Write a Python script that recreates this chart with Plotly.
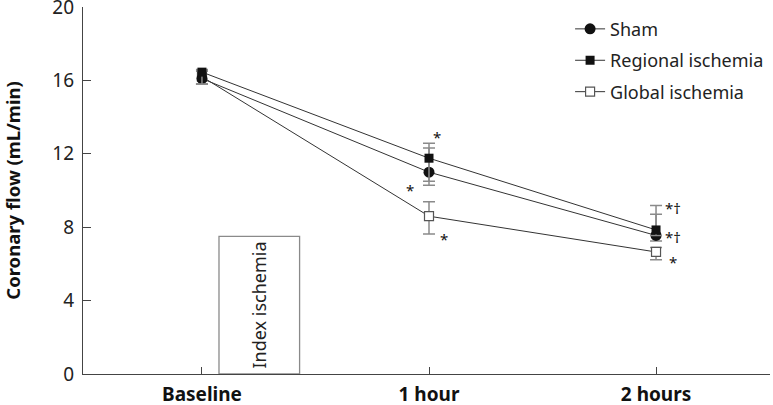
import plotly.graph_objects as go

# ---- data ----
timepoints = ["Baseline", "1 hour", "2 hours"]
sham = [16.1, 11.0, 7.55]
sham_err_plus = [0.45, 1.32, 1.16]
sham_err_minus = [0.3, 0.71, 0.3]
regional = [16.45, 11.76, 7.85]
regional_err_plus = [0.15, 0.81, 1.33]
regional_err_minus = [0.65, 1.26, 0.3]
global_isch = [16.2, 8.6, 6.65]
global_err_plus = [0.3, 0.79, 0.24]
global_err_minus = [0.4, 0.97, 0.42]
y_ticks = [0, 4, 8, 12, 16, 20]

# significance marks: (series label, timepoint index, text)
sig_marks = [
    ("regional", 1, "*"),
    ("sham", 1, "*"),
    ("global", 1, "*"),
    ("regional", 2, "*†"),
    ("sham", 2, "*†"),
    ("global", 2, "*"),
]
ischemia_label = "Index ischemia"
ischemia_box_top = 7.5

x = list(range(len(timepoints)))
FONT = "Noto Sans"
LINE = "#333333"
ERR = "#8a8a8a"

fig = go.Figure()

def add_series(name, y, ep, em, symbol, mcolor, lcolor, size, lwidth, rank):
    fig.add_trace(go.Scatter(
        x=x, y=y, name=name, mode="lines+markers",
        line=dict(color=LINE, width=1),
        marker=dict(symbol=symbol, size=size, color=mcolor,
                    line=dict(color=lcolor, width=lwidth)),
        error_y=dict(type="data", symmetric=False, array=ep, arrayminus=em,
                     color=ERR, thickness=1.5, width=6),
        legendgroup=name, legendrank=rank,
    ))

add_series("Global ischemia", global_isch, global_err_plus, global_err_minus,
           "square", "white", "#555555", 9, 1.2, 3)
add_series("Sham", sham, sham_err_plus, sham_err_minus,
           "circle", "#111111", "#111111", 11, 0, 1)
add_series("Regional ischemia", regional, regional_err_plus, regional_err_minus,
           "square", "#111111", "#111111", 9, 0, 2)

# Index ischemia box
fig.add_shape(type="rect", xref="x", yref="y", x0=0.075, x1=0.43, y0=0,
              y1=ischemia_box_top, line=dict(color="#8a8a8a", width=1.3),
              fillcolor="rgba(0,0,0,0)", layer="below")
fig.add_annotation(x=0.2525, y=3.75, xref="x", yref="y", text=ischemia_label,
                   textangle=-90, showarrow=False,
                   font=dict(family=FONT, size=18, color="#222"))

# significance annotations
series_vals = {"sham": sham, "regional": regional, "global": global_isch}
offsets = {
    (1, "regional"): (0.034, 1.35), (1, "sham"): (-0.084, -0.75),
    (1, "global"): (0.066, -1.03),
    (2, "regional"): (0.075, 1.41), (2, "sham"): (0.075, 0.13),
    (2, "global"): (0.074, -0.31),
}
for s, i, t in sig_marks:
    dx, dy = offsets[(i, s)]
    fig.add_annotation(x=x[i] + dx, y=series_vals[s][i] + dy, xref="x", yref="y",
                       text=t, showarrow=False, yshift=-4,
                       font=dict(family=FONT, size=15, color="#111"))

fig.update_layout(
    width=773, height=405,
    margin=dict(l=83, r=3, t=7, b=31, autoexpand=False),
    plot_bgcolor="white", paper_bgcolor="white",
    font=dict(family=FONT, color="#222"),
    showlegend=True,
    legend=dict(x=0.709, y=0.99, xanchor="left", yanchor="top",
                font=dict(family=FONT, size=18, color="#222"),
                traceorder="grouped", tracegroupgap=5,
                bgcolor="rgba(0,0,0,0)"),
    xaxis=dict(range=[-0.524, 2.502], tickvals=x,
               ticktext=["<b>%s</b>" % t for t in timepoints],
               showline=True, linecolor="#444", linewidth=1.2,
               ticks="inside", ticklen=7, tickcolor="#444",
               ticklabelstandoff=3, ticklabeloverflow="allow", automargin=False,
               showgrid=False, zeroline=False,
               tickfont=dict(family=FONT, size=19, color="#111")),
    yaxis=dict(range=[0, 20], tickvals=y_ticks,
               showline=True, linecolor="#444", linewidth=1.2,
               ticks="inside", ticklen=8, tickcolor="#444",
               ticklabelstandoff=4, ticklabeloverflow="allow", automargin=False,
               showgrid=False, zeroline=False,
               tickfont=dict(family=FONT, size=19, color="#222"),
               title=dict(text="<b>Coronary flow (mL/min)</b>",
                          font=dict(family=FONT, size=18.5, color="#111"),
                          standoff=28)),
)

fig.write_html("out.html", config={"displayModeBar": False},
               post_script="document.body.style.margin='0';document.body.style.overflow='hidden';")
